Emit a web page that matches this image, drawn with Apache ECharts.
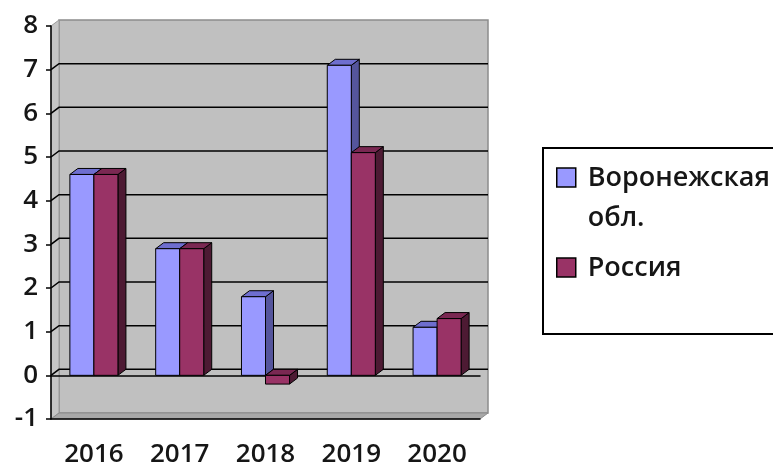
<!DOCTYPE html>
<html>
<head>
<meta charset="utf-8">
<script src="https://cdn.jsdelivr.net/npm/echarts@6/dist/echarts.min.js"></script>
<style>
html,body{margin:0;padding:0;background:#fff;}
#chart{width:773px;height:468px;}
</style>
</head>
<body>
<div id="chart"></div>
<script>
const years = ['2016', '2017', '2018', '2019', '2020'];
const voronezh = [4.6, 2.9, 1.8, 7.1, 1.1];
const russia = [4.6, 2.9, -0.2, 5.1, 1.3];
const yTicks = [-1, 0, 1, 2, 3, 4, 5, 6, 7, 8];
const seriesNames = ['Воронежская обл.', 'Россия'];

const DX = 8, DY = -6;
const FONT = 'Open Sans';

function barRenderer(sIdx, cFront, cTop, cSide) {
  return function (params, api) {
    const idx = api.value(0), v = api.value(1);
    const band = api.size([1, 0])[0];
    const bw = band * 0.28;
    const c0 = api.coord([idx, 0]);
    const c1 = api.coord([idx, v]);
    const x0 = c0[0] - bw + sIdx * bw;
    const yTop = Math.min(c0[1], c1[1]);
    const yBot = Math.max(c0[1], c1[1]);
    const stroke = {stroke: '#000', lineWidth: 1};
    return {
      type: 'group',
      children: [
        {type: 'polygon', shape: {points: [[x0 + bw, yTop], [x0 + bw + DX, yTop + DY], [x0 + bw + DX, yBot + DY], [x0 + bw, yBot]]},
          style: Object.assign({fill: cSide}, stroke)},
        {type: 'polygon', shape: {points: [[x0, yTop], [x0 + DX, yTop + DY], [x0 + bw + DX, yTop + DY], [x0 + bw, yTop]]},
          style: Object.assign({fill: cTop}, stroke)},
        {type: 'rect', shape: {x: x0, y: yTop, width: bw, height: yBot - yTop},
          style: Object.assign({fill: cFront}, stroke)}
      ]
    };
  };
}

function wallRenderer(params, api) {
  const cs = params.coordSys;
  const x = cs.x, y = cs.y, w = cs.width, h = cs.height;
  const children = [
    {type: 'rect', shape: {x: x + DX, y: y + DY, width: w, height: h},
      style: {fill: '#c0c0c0', stroke: '#8c8c8c', lineWidth: 1.5}},
    {type: 'polygon', shape: {points: [[x, y], [x + DX, y + DY], [x + DX, y + h + DY], [x, y + h]]},
      style: {fill: '#c6c6c6', stroke: '#9a9a9a', lineWidth: 1}},
    {type: 'polygon', shape: {points: [[x, y + h], [x + DX, y + h + DY], [x + w + DX, y + h + DY], [x + w, y + h]]},
      style: {fill: '#a8a8a8', stroke: '#8c8c8c', lineWidth: 1}}
  ];
  const maxV = yTicks[yTicks.length - 1];
  yTicks.forEach(function (v) {
    if (v <= yTicks[0] || v >= maxV) return;
    const yv = api.coord([0, v])[1];
    children.push({type: 'polyline', shape: {points: [[x, yv], [x + DX, yv + DY], [x + w + DX, yv + DY]]},
      style: {fill: null, stroke: '#000', lineWidth: 1.5}});
  });
  return {type: 'group', children: children};
}

const chart = echarts.init(document.getElementById('chart'), null, {renderer: 'canvas'});
chart.setOption({
  animation: false,
  backgroundColor: '#fff',
  grid: {left: 51, right: 293, top: 26, bottom: 47, containLabel: false},
  legend: {
    orient: 'vertical', left: 543, top: 148,
    itemWidth: 26, itemHeight: 60, itemGap: 10,
    padding: [10, 40, 6, 13],
    borderColor: '#000', borderWidth: 2, backgroundColor: '#fff',
    icon: 'path://M0,0h19v19h-19z M26,60',
    itemStyle: {borderColor: '#000', borderWidth: 1.5},
    textStyle: {fontSize: 27, fontWeight: 600, lineHeight: 40, fontFamily: FONT, color: '#161616'},
    formatter: function (name) {
      return name === seriesNames[0] ? 'Воронежская\nобл.' : name + '\n\u00a0';
    },
    data: seriesNames,
    selectedMode: false
  },
  xAxis: [
    {
      type: 'category', data: years, position: 'bottom',
      axisLine: {onZero: false, lineStyle: {color: '#000', width: 1.5}},
      axisTick: {length: 6, lineStyle: {color: '#000', width: 1.5}},
      axisLabel: {fontSize: 26, fontWeight: 600, margin: 23, color: '#161616', fontFamily: FONT},
      splitLine: {show: false}
    },
    {
      type: 'category', data: years, position: 'top',
      axisLine: {onZero: true, lineStyle: {color: '#000', width: 1.5}},
      axisTick: {inside: true, length: 5, lineStyle: {color: '#000', width: 1.5}},
      axisLabel: {show: false},
      splitLine: {show: false}
    }
  ],
  yAxis: {
    type: 'value', min: yTicks[0], max: yTicks[yTicks.length - 1], interval: 1,
    axisLine: {show: true, lineStyle: {color: '#000', width: 1.5}},
    axisTick: {show: true, length: 5, lineStyle: {color: '#000', width: 1.5}},
    axisLabel: {fontSize: 26, fontWeight: 600, margin: 13, color: '#161616', fontFamily: FONT},
    splitLine: {show: false}
  },
  series: [
    {
      type: 'custom', name: 'walls', z: -1, silent: true,
      xAxisIndex: 0, yAxisIndex: 0,
      data: [[0, 0]], encode: {x: 0, y: 1},
      renderItem: wallRenderer
    },
    {
      type: 'custom', name: seriesNames[0], xAxisIndex: 0, yAxisIndex: 0, z: 3,
      itemStyle: {color: '#9999ff'},
      data: voronezh.map(function (v, i) { return [i, v]; }),
      encode: {x: 0, y: 1},
      renderItem: barRenderer(0, '#9999ff', '#6e6ecf', '#55559c')
    },
    {
      type: 'custom', name: seriesNames[1], xAxisIndex: 0, yAxisIndex: 0, z: 4,
      itemStyle: {color: '#993366'},
      data: russia.map(function (v, i) { return [i, v]; }),
      encode: {x: 0, y: 1},
      renderItem: barRenderer(1, '#993366', '#7a2852', '#4d1a33')
    }
  ]
});
</script>
</body>
</html>
